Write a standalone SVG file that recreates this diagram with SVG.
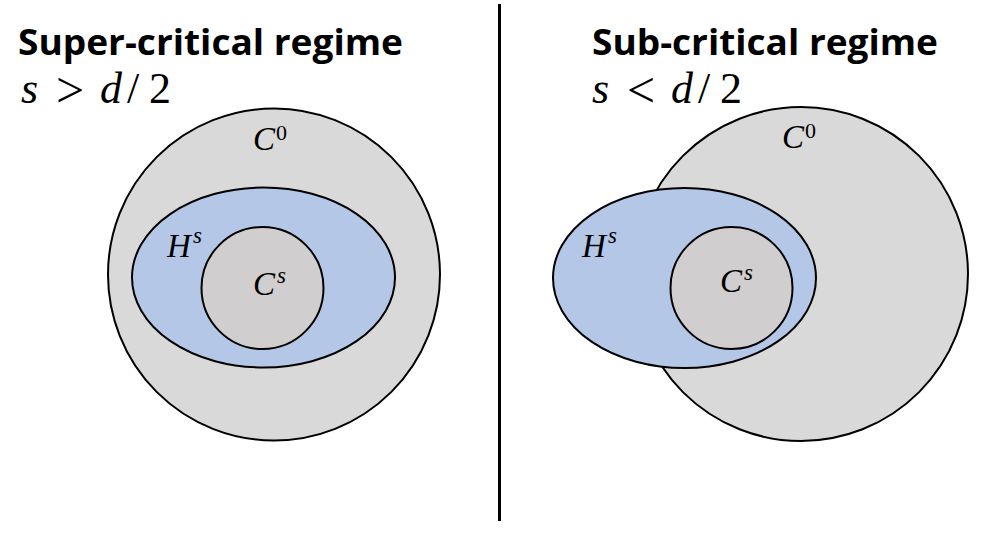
<svg xmlns="http://www.w3.org/2000/svg" width="1001" height="538" viewBox="0 0 1001 538">
<style>
.title{font-family:"Open Sans","Liberation Sans",sans-serif;font-weight:700;font-size:36px;fill:#000}
.math{font-family:"Liberation Serif","DejaVu Serif",serif;font-size:44px;fill:#000}
.rel{font-family:"Liberation Serif","DejaVu Serif",serif;font-size:50px;fill:#000}
.it{font-style:italic}
.lbl{font-family:"Liberation Serif","DejaVu Serif",serif;font-style:italic;font-size:33px;fill:#000}
.sup{font-family:"Liberation Serif","DejaVu Serif",serif;font-size:23px;font-style:italic;fill:#000}
.sup0{font-family:"Liberation Serif","DejaVu Serif",serif;font-size:22px;fill:#000}
.outer{fill:#d9d9d9;stroke:#000;stroke-width:2}
.h{fill:#b4c7e7;stroke:#000;stroke-width:2}
.inner{fill:#d0cece;stroke:#000;stroke-width:2}
</style>
<rect width="1001" height="538" fill="#fff"/>
<g id="divider">
<line x1="499.5" y1="4" x2="499.5" y2="521" stroke="#000" stroke-width="3"/>
</g>
<g id="left-title">
<text class="title" x="18" y="55" textLength="385" lengthAdjust="spacingAndGlyphs">Super-critical regime</text>
<text class="math it" x="21" y="103">s</text>
<text class="rel" x="56" y="107">&gt;</text>
<text class="math it" x="100" y="103">d</text>
<text class="math" x="127" y="103">/</text>
<text class="math" x="149" y="103">2</text>
</g>
<g id="right-title">
<text class="title" x="592" y="55" textLength="346" lengthAdjust="spacingAndGlyphs">Sub-critical regime</text>
<text class="math it" x="592" y="103">s</text>
<text class="rel" x="627" y="107">&lt;</text>
<text class="math it" x="671" y="103">d</text>
<text class="math" x="698" y="103">/</text>
<text class="math" x="720" y="103">2</text>
</g>
<g id="left-C0">
<circle class="outer" cx="274" cy="274.5" r="166"/>
<text class="lbl" x="253" y="150">C</text>
<text class="sup0" x="276" y="140">0</text>
</g>
<g id="left-Hs">
<ellipse class="h" cx="263.5" cy="277.5" rx="131.5" ry="90"/>
<text class="lbl" x="167" y="257">H</text>
<text class="sup" x="193" y="243">s</text>
</g>
<g id="left-Cs">
<circle class="inner" cx="262.5" cy="288" r="61"/>
<text class="lbl" x="253" y="295">C</text>
<text class="sup" x="277" y="283">s</text>
</g>
<g id="right-C0">
<circle class="outer" cx="801" cy="274" r="167"/>
<text class="lbl" x="782" y="148">C</text>
<text class="sup0" x="805" y="138">0</text>
</g>
<g id="right-Hs">
<ellipse class="h" cx="684.5" cy="278" rx="131.5" ry="90"/>
<text class="lbl" x="582" y="257">H</text>
<text class="sup" x="608" y="243">s</text>
</g>
<g id="right-Cs">
<circle class="inner" cx="731.5" cy="288" r="61"/>
<text class="lbl" x="720" y="292">C</text>
<text class="sup" x="744" y="280">s</text>
</g>
</svg>
